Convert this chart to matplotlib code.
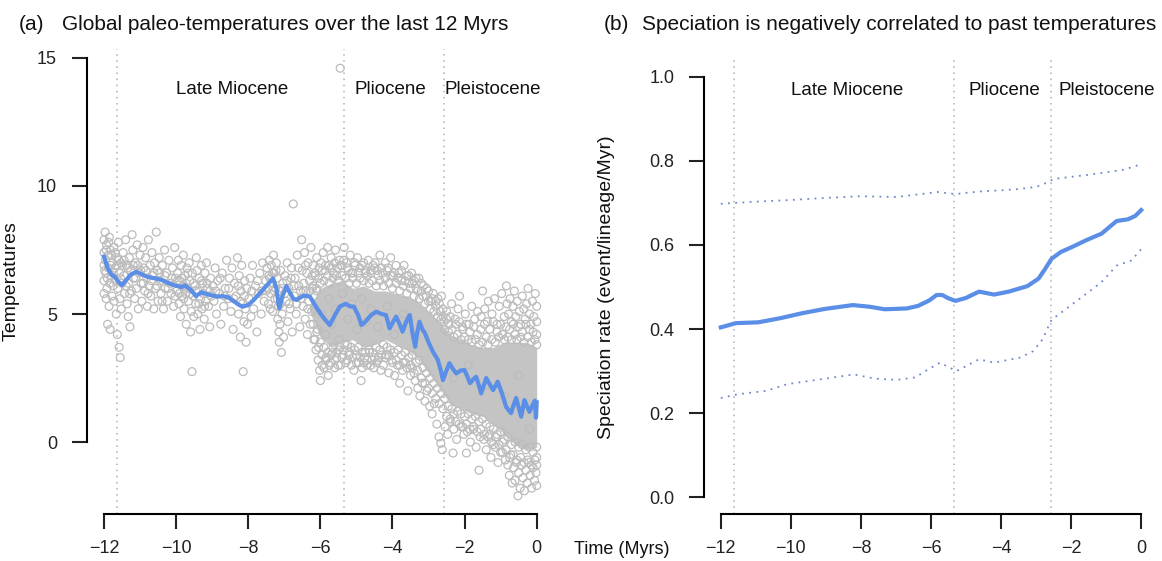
import numpy as np
import matplotlib
matplotlib.use("Agg")
import matplotlib.pyplot as plt

plt.rcParams['font.family'] = ['Liberation Sans', 'DejaVu Sans']

# epoch boundaries (Myrs before present) and label positions
bounds = [-11.63, -5.333, -2.58]
epochs = ["Late Miocene", "Pliocene", "Pleistocene"]
epoch_x_a = [-8.45, -4.05, -1.22]
epoch_x_b = [-8.4, -3.9, -0.97]

# (a) raw paleo-temperature points
miocene_pts = [
    (-12.0, 7.9), (-12.0, 7.4), (-12.0, 6.9), (-12.0, 6.3), (-12.0, 5.8), (-11.97, 8.2), (-11.96, 7.1),
    (-11.95, 6.6), (-11.94, 5.6), (-11.93, 7.7), (-11.92, 6.0), (-11.9, 4.6), (-11.89, 7.3), (-11.88, 6.8),
    (-11.86, 5.3), (-11.85, 8.0), (-11.84, 6.2), (-11.83, 4.4), (-11.82, 7.5), (-11.8, 6.5), (-11.78, 5.7),
    (-11.77, 7.0), (-11.75, 6.1), (-11.73, 7.6), (-11.72, 5.5), (-11.7, 6.8), (-11.68, 6.3), (-11.66, 5.0),
    (-11.65, 7.2), (-11.63, 4.2), (-11.62, 6.0), (-11.6, 7.8), (-11.58, 3.7), (-11.57, 6.6), (-11.56, 5.6),
    (-11.55, 3.3), (-11.53, 7.0), (-11.52, 5.2), (-11.5, 6.2), (-11.47, 7.4), (-11.45, 6.5), (-11.43, 5.8),
    (-11.4, 7.9), (-11.38, 6.9), (-11.36, 5.4), (-11.33, 4.9), (-11.32, 6.2), (-11.3, 7.2), (-11.28, 4.5),
    (-11.26, 6.7), (-11.24, 5.9), (-11.22, 8.1), (-11.2, 7.5), (-11.18, 6.4), (-11.15, 5.6), (-11.13, 7.0),
    (-11.1, 6.0), (-11.08, 7.7), (-11.05, 5.2), (-11.03, 6.6), (-11.0, 7.3), (-10.97, 6.2), (-10.95, 5.5),
    (-10.92, 7.6), (-10.9, 6.8), (-10.87, 5.9), (-10.85, 7.2), (-10.82, 6.4), (-10.8, 5.3), (-10.77, 7.9),
    (-10.75, 6.1), (-10.72, 6.9), (-10.7, 5.7), (-10.67, 7.4), (-10.65, 6.5), (-10.62, 5.2), (-10.6, 7.0),
    (-10.57, 6.0), (-10.55, 8.2), (-10.52, 6.7), (-10.5, 5.5), (-10.47, 7.2), (-10.44, 6.3), (-10.42, 5.8),
    (-10.38, 6.9), (-10.35, 5.2), (-10.32, 7.5), (-10.3, 6.0), (-10.27, 6.6), (-10.24, 5.5), (-10.2, 7.1),
    (-10.17, 6.2), (-10.14, 5.8), (-10.1, 6.8), (-10.07, 5.3), (-10.04, 7.6), (-10.02, 6.4), (-9.98, 5.9),
    (-9.96, 6.6), (-9.94, 7.1), (-9.92, 5.4), (-9.9, 6.3), (-9.88, 4.9), (-9.86, 6.9), (-9.84, 5.7),
    (-9.82, 6.1), (-9.8, 7.3), (-9.78, 5.2), (-9.76, 6.5), (-9.74, 5.8), (-9.72, 4.6), (-9.7, 6.8),
    (-9.68, 6.0), (-9.66, 5.5), (-9.64, 7.0), (-9.62, 6.3), (-9.6, 4.3), (-9.58, 5.1), (-9.56, 2.75),
    (-9.55, 6.6), (-9.53, 5.7), (-9.51, 4.9), (-9.48, 6.1), (-9.46, 5.4), (-9.44, 7.2), (-9.42, 6.7),
    (-9.4, 5.0), (-9.38, 5.9), (-9.36, 6.4), (-9.34, 4.4), (-9.32, 5.6), (-9.3, 6.9), (-9.28, 5.2),
    (-9.26, 6.2), (-9.24, 5.8), (-9.22, 4.8), (-9.2, 6.6), (-9.18, 5.5), (-9.16, 7.0), (-9.13, 6.0),
    (-9.1, 5.3), (-9.07, 4.5), (-9.04, 6.4), (-9.02, 5.7), (-8.98, 6.1), (-8.95, 5.5), (-8.92, 6.8),
    (-8.88, 5.0), (-8.85, 6.3), (-8.8, 5.8), (-8.76, 4.6), (-8.72, 6.6), (-8.68, 5.3), (-8.64, 6.0),
    (-8.6, 7.1), (-8.56, 5.6), (-8.52, 6.4), (-8.48, 5.1), (-8.45, 6.8), (-8.42, 4.4), (-8.38, 6.2),
    (-8.34, 5.7), (-8.3, 7.2), (-8.27, 5.0), (-8.25, 6.5), (-8.22, 4.1), (-8.2, 5.9), (-8.18, 6.9),
    (-8.16, 5.4), (-8.14, 2.75), (-8.12, 4.7), (-8.1, 6.3), (-8.08, 5.2), (-8.06, 3.9), (-8.04, 6.0),
    (-8.02, 4.6),
    (-11.98, 6.7), (-11.94, 7.5), (-11.91, 6.4), (-11.87, 7.8), (-11.81, 6.9), (-11.79, 7.3), (-11.74, 6.6),
    (-11.69, 7.4), (-11.64, 6.9), (-11.59, 7.1), (-11.54, 6.4), (-11.49, 6.9), (-11.44, 7.1), (-11.39, 6.1),
    (-11.34, 6.8), (-11.29, 5.8), (-11.19, 6.9), (-11.12, 6.4), (-11.06, 6.9), (-10.98, 6.7), (-10.91, 6.2),
    (-10.84, 6.7), (-10.78, 5.8), (-10.69, 6.3), (-10.61, 6.6), (-10.53, 6.1), (-10.46, 6.6), (-10.39, 5.5),
    (-10.31, 6.5), (-10.22, 6.0), (-10.12, 6.4), (-10.03, 5.7), (-9.97, 6.3), (-9.91, 5.8), (-9.85, 6.4),
    (-9.79, 5.6), (-9.73, 6.2), (-9.67, 6.6), (-9.61, 5.8), (-9.52, 6.2), (-9.45, 5.9), (-9.37, 5.4),
    (-9.29, 6.3), (-9.21, 5.3), (-9.14, 6.2), (-9.06, 5.9), (-8.9, 5.9), (-8.78, 6.4), (-8.66, 5.7),
    (-8.54, 6.0), (-8.4, 5.6), (-8.28, 6.1), (-8.21, 5.5), (-8.11, 5.7),
]
late_pts = [
    (-7.98, 5.6), (-7.95, 6.4), (-7.92, 4.9), (-7.88, 6.9), (-7.85, 5.2), (-7.8, 6.1), (-7.76, 4.3),
    (-7.72, 5.8), (-7.68, 6.6), (-7.64, 5.0), (-7.6, 7.0), (-7.56, 5.5), (-7.52, 6.3), (-7.48, 6.8),
    (-7.46, 6.0), (-7.44, 5.4), (-7.42, 7.1), (-7.4, 6.4), (-7.38, 5.8), (-7.36, 6.9), (-7.34, 6.2),
    (-7.32, 5.1), (-7.3, 7.3), (-7.28, 6.6), (-7.26, 5.6), (-7.24, 6.0), (-7.22, 7.0), (-7.2, 6.4),
    (-7.18, 4.8), (-7.16, 5.3), (-7.15, 4.3), (-7.14, 3.9), (-7.13, 5.9), (-7.12, 4.6), (-7.1, 6.7),
    (-7.08, 3.5), (-7.06, 5.0), (-7.04, 6.2), (-7.02, 4.1), (-6.98, 6.5), (-6.95, 5.5), (-6.92, 7.0),
    (-6.9, 4.7), (-6.87, 6.0), (-6.84, 5.2), (-6.8, 6.8), (-6.78, 4.3), (-6.75, 9.3), (-6.72, 5.7),
    (-6.7, 6.4), (-6.67, 5.0), (-6.64, 7.3), (-6.6, 6.1), (-6.57, 4.5), (-6.54, 5.6), (-6.52, 7.9),
    (-6.5, 6.7), (-6.48, 5.3), (-6.46, 6.2), (-6.44, 7.4), (-6.42, 4.8), (-6.4, 5.9), (-6.38, 6.6),
    (-6.36, 4.2), (-6.34, 7.0), (-6.32, 5.5), (-6.3, 6.3), (-6.28, 4.6), (-6.26, 7.6), (-6.24, 5.1),
    (-6.22, 6.0), (-6.2, 6.9), (-6.18, 4.0), (-6.16, 5.7), (-6.14, 6.5), (-6.12, 3.6), (-6.1, 7.2),
    (-6.08, 4.4), (-6.06, 3.2), (-6.04, 6.8), (-6.02, 2.8), (-6.0, 2.4), (-5.98, 7.0), (-5.95, 3.0),
    (-5.92, 7.4), (-5.9, 2.9), (-5.87, 6.7), (-5.84, 3.3), (-5.8, 7.6), (-5.78, 2.6), (-5.75, 6.9),
    (-5.72, 3.1), (-5.7, 7.2), (-5.66, 3.5), (-5.64, 6.6), (-5.6, 2.9), (-5.58, 7.5), (-5.55, 3.3),
    (-5.52, 6.8), (-5.5, 3.6), (-5.47, 7.1), (-5.45, 14.6), (-5.44, 3.0), (-5.4, 6.9), (-5.37, 3.4),
    (-5.34, 7.6), (-5.32, 3.8), (-5.96, 5.0), (-5.85, 4.2), (-5.76, 5.6), (-5.68, 4.6), (-5.58, 5.2),
    (-5.48, 4.0), (-5.38, 5.8),
    (-7.9, 5.9), (-7.74, 6.3), (-7.62, 5.9), (-7.5, 5.9), (-7.43, 6.5), (-7.39, 5.2), (-7.33, 6.6),
    (-7.27, 5.9), (-7.23, 6.7), (-7.19, 5.6), (-7.11, 5.4), (-7.07, 6.0), (-6.99, 5.8), (-6.93, 6.3),
    (-6.86, 5.4), (-6.81, 6.4), (-6.73, 6.1), (-6.66, 5.4), (-6.61, 6.8), (-6.55, 5.9), (-6.47, 5.9),
    (-6.41, 6.9), (-6.35, 5.2), (-6.29, 5.9), (-6.23, 6.5), (-6.17, 5.2), (-6.11, 6.0),
]
pliocene_pts = [
    (-5.28, 7.0), (-5.25, 3.2), (-5.22, 6.7), (-5.2, 3.5), (-5.17, 7.3), (-5.14, 3.0), (-5.1, 6.6),
    (-5.07, 2.8), (-5.04, 6.9), (-5.0, 3.4), (-4.97, 7.2), (-4.94, 3.1), (-4.9, 6.8), (-4.87, 2.4),
    (-4.84, 2.9), (-4.8, 7.0), (-4.77, 3.3), (-4.74, 6.6), (-4.7, 3.0), (-4.67, 7.1), (-4.64, 3.5),
    (-4.6, 6.7), (-4.57, 3.2), (-4.54, 6.9), (-4.52, 2.9), (-5.24, 4.8), (-5.12, 5.4), (-4.98, 4.4),
    (-4.85, 5.6), (-4.72, 4.7), (-4.6, 5.2), (-4.48, 7.0), (-4.45, 3.1), (-4.42, 6.7), (-4.38, 3.3),
    (-4.35, 7.3), (-4.32, 2.8), (-4.28, 6.6), (-4.25, 3.0), (-4.2, 7.0), (-4.17, 3.4), (-4.12, 6.8),
    (-4.1, 2.7), (-4.05, 7.2), (-4.02, 3.2), (-3.98, 6.5), (-3.94, 2.6), (-3.9, 6.9), (-3.86, 3.0),
    (-3.82, 6.6), (-3.8, 2.3), (-3.76, 6.3), (-3.72, 2.8), (-3.68, 6.9), (-3.64, 3.1), (-3.6, 6.5),
    (-3.57, 2.0), (-3.54, 6.2), (-3.5, 2.6), (-4.4, 4.5), (-4.15, 5.3), (-3.95, 4.2), (-3.7, 5.0),
    (-3.47, 6.6), (-3.44, 2.9), (-3.4, 6.3), (-3.37, 2.4), (-3.34, 6.0), (-3.3, 2.1), (-3.27, 6.4),
    (-3.24, 1.8), (-3.2, 5.9), (-3.17, 2.3), (-3.14, 6.1), (-3.1, 1.6), (-3.07, 5.7), (-3.04, 2.0),
    (-3.0, 5.9), (-2.97, 1.4), (-2.94, 5.5), (-2.9, 1.1), (-2.87, 5.8), (-2.84, 1.5), (-2.8, 5.3),
    (-2.77, 0.7), (-2.74, 5.6), (-2.71, 0.2), (-2.68, 5.1), (-2.66, -0.05), (-2.64, 5.7), (-2.62, -0.3),
    (-2.6, 4.9),
]
pleistocene_pts = [
    (-2.57, 4.7), (-2.54, 0.6), (-2.5, 5.1), (-2.47, 0.3), (-2.44, 4.6), (-2.4, 0.8), (-2.36, 5.4),
    (-2.32, -0.43), (-2.3, 0.5), (-2.26, 4.8), (-2.22, 0.1), (-2.18, 5.2), (-2.14, 5.7), (-2.1, 0.6),
    (-2.06, 4.5), (-2.02, 0.3), (-1.98, 5.0), (-1.95, -0.43), (-1.92, 0.4), (-1.88, 4.6), (-1.84, 0.0),
    (-1.8, 5.3), (-1.76, 0.5), (-1.72, 4.8), (-1.68, -0.2), (-1.64, 5.1), (-1.6, -1.1), (-1.57, 0.2),
    (-1.54, 4.9), (-1.5, 5.9), (-1.47, 0.1), (-1.44, 5.2), (-1.4, -0.3), (-1.37, 4.7), (-1.34, 5.5),
    (-1.3, 0.3), (-1.27, -0.6), (-1.24, 5.0), (-1.2, -0.1), (-1.17, 5.6), (-1.14, 0.2), (-1.1, 4.6),
    (-1.07, -0.8), (-1.04, 5.3), (-1.0, -0.4), (-0.97, 5.8), (-0.94, 0.0), (-0.9, 4.9), (-0.87, -0.7),
    (-0.84, 6.1), (-0.82, 5.4), (-0.8, -0.9), (-0.78, 5.0), (-0.76, -1.3), (-0.74, 5.6), (-0.72, -0.5),
    (-0.7, 4.7), (-0.68, -1.6), (-0.66, 5.3), (-0.64, -1.0), (-0.62, 5.9), (-0.6, -1.5), (-0.58, 4.9),
    (-0.56, -0.8), (-0.54, 5.5), (-0.52, -2.1), (-0.5, -1.2), (-0.48, 5.1), (-0.46, -1.8), (-0.44, 4.6),
    (-0.42, -0.9), (-0.4, 5.7), (-0.38, -1.4), (-0.36, 5.2), (-0.34, -1.9), (-0.32, 4.8), (-0.3, -1.1),
    (-0.28, 5.4), (-0.26, -1.6), (-0.24, 6.0), (-0.22, -0.8), (-0.2, 5.0), (-0.18, -1.3), (-0.16, 4.6),
    (-0.14, -1.8), (-0.12, 5.5), (-0.1, -1.0), (-0.08, 4.9), (-0.06, -1.5), (-0.04, 5.8), (-0.02, -1.2),
    (0.0, 4.7), (0.0, -0.6), (0.0, -1.7), (0.0, 5.3), (-2.3, 2.5), (-1.9, 3.0), (-1.4, 2.2),
    (-0.9, 1.8), (-0.5, 2.6), (-0.2, 0.5),
]
# points hugging the upper and lower edge of the dense band
band_top_pts = [
    (-6.2, 6.1), (-6.15, 6.6), (-6.1, 5.9), (-6.05, 6.4), (-6.0, 6.2), (-5.95, 6.7), (-5.9, 6.3),
    (-5.85, 6.9), (-5.8, 6.5), (-5.75, 6.2), (-5.7, 6.8), (-5.65, 6.4), (-5.6, 7.0), (-5.55, 6.5),
    (-5.5, 6.3), (-5.45, 6.9), (-5.4, 6.5), (-5.35, 7.1), (-5.3, 6.4), (-5.25, 6.8), (-5.2, 6.2),
    (-5.15, 6.6), (-5.1, 6.4), (-5.05, 7.0), (-5.0, 6.2), (-4.95, 6.6), (-4.9, 6.4), (-4.85, 6.9),
    (-4.8, 6.3), (-4.75, 6.7), (-4.7, 6.5), (-4.65, 6.2), (-4.6, 6.6), (-4.55, 6.3), (-4.5, 6.8),
    (-4.45, 6.1), (-4.4, 6.5), (-4.35, 6.3), (-4.3, 6.8), (-4.25, 6.1), (-4.2, 6.4), (-4.15, 6.7),
    (-4.1, 6.2), (-4.05, 6.5), (-4.0, 6.0), (-3.95, 6.6), (-3.9, 6.2), (-3.85, 6.4), (-3.8, 5.9),
    (-3.75, 6.7), (-3.7, 6.1), (-3.65, 6.3), (-3.6, 5.8), (-3.55, 6.5), (-3.5, 6.0), (-3.45, 6.2),
    (-3.4, 5.7), (-3.35, 6.4), (-3.3, 5.9), (-3.25, 5.6), (-3.2, 6.2), (-3.15, 5.7), (-3.1, 5.4),
    (-3.05, 6.0), (-3.0, 5.5), (-2.95, 5.2), (-2.9, 5.6), (-2.85, 5.1), (-2.8, 5.5), (-2.75, 4.9),
    (-2.7, 5.4), (-2.65, 4.8), (-2.6, 5.2), (-2.55, 4.4), (-2.5, 4.8), (-2.45, 4.3), (-2.4, 4.9),
    (-2.35, 4.4), (-2.3, 4.1), (-2.25, 4.6), (-2.2, 4.2), (-2.15, 4.7), (-2.1, 4.0), (-2.05, 4.4),
    (-2.0, 4.1), (-1.95, 4.6), (-1.9, 4.0), (-1.85, 4.3), (-1.8, 3.9), (-1.75, 4.5), (-1.7, 4.0),
    (-1.65, 4.2), (-1.6, 3.8), (-1.55, 4.4), (-1.5, 3.9), (-1.45, 4.6), (-1.4, 4.1), (-1.35, 3.8),
    (-1.3, 4.4), (-1.25, 4.0), (-1.2, 4.7), (-1.15, 3.9), (-1.1, 4.3), (-1.05, 4.1), (-1.0, 4.6),
    (-0.95, 4.2), (-0.9, 4.0), (-0.85, 4.5), (-0.8, 4.1), (-0.75, 4.4), (-0.7, 4.0), (-0.65, 4.6),
    (-0.6, 4.2), (-0.55, 4.0), (-0.5, 4.5), (-0.45, 4.1), (-0.4, 4.3), (-0.35, 3.9), (-0.3, 4.6),
    (-0.25, 4.1), (-0.2, 4.4), (-0.15, 3.9), (-0.1, 4.3), (-0.05, 4.0), (0.0, 4.2), (0.0, 3.8),
]
band_bottom_pts = [
    (-6.2, 4.6), (-6.15, 4.0), (-6.1, 4.3), (-6.05, 3.7), (-6.0, 3.9), (-5.95, 3.4), (-5.9, 3.7),
    (-5.85, 3.2), (-5.8, 3.5), (-5.75, 3.0), (-5.7, 3.4), (-5.65, 3.7), (-5.6, 3.2), (-5.55, 3.5),
    (-5.5, 3.0), (-5.45, 3.7), (-5.4, 3.3), (-5.35, 3.6), (-5.3, 3.1), (-5.25, 3.8), (-5.2, 3.4),
    (-5.15, 3.7), (-5.1, 3.3), (-5.05, 3.6), (-5.0, 3.1), (-4.95, 3.7), (-4.9, 3.3), (-4.85, 3.5),
    (-4.8, 3.1), (-4.75, 3.5), (-4.7, 3.2), (-4.65, 3.6), (-4.6, 3.0), (-4.55, 3.5), (-4.5, 3.3),
    (-4.45, 3.7), (-4.4, 3.2), (-4.35, 3.6), (-4.3, 3.4), (-4.25, 3.8), (-4.2, 3.3), (-4.15, 3.7),
    (-4.1, 3.4), (-4.05, 3.6), (-4.0, 3.1), (-3.95, 3.5), (-3.9, 3.2), (-3.85, 3.6), (-3.8, 3.0),
    (-3.75, 3.4), (-3.7, 3.1), (-3.65, 3.5), (-3.6, 2.9), (-3.55, 3.3), (-3.5, 3.0), (-3.45, 3.4),
    (-3.4, 2.7), (-3.35, 3.1), (-3.3, 2.8), (-3.25, 3.2), (-3.2, 2.5), (-3.15, 2.9), (-3.1, 2.3),
    (-3.05, 2.7), (-3.0, 2.1), (-2.95, 2.5), (-2.9, 1.9), (-2.85, 2.3), (-2.8, 1.7), (-2.75, 2.1),
    (-2.7, 1.5), (-2.65, 1.9), (-2.6, 1.3), (-2.55, 1.7), (-2.5, 1.0), (-2.45, 1.4), (-2.4, 0.9),
    (-2.35, 1.3), (-2.3, 1.1), (-2.25, 0.8), (-2.2, 1.2), (-2.15, 0.7), (-2.1, 1.1), (-2.05, 0.6),
    (-2.0, 1.0), (-1.95, 0.7), (-1.9, 1.1), (-1.85, 0.5), (-1.8, 0.9), (-1.75, 0.6), (-1.7, 1.0),
    (-1.65, 0.4), (-1.6, 0.8), (-1.55, 0.5), (-1.5, 0.9), (-1.45, 0.3), (-1.4, 0.7), (-1.35, 0.2),
    (-1.3, 0.6), (-1.25, 0.0), (-1.2, 0.5), (-1.15, -0.2), (-1.1, 0.3), (-1.05, -0.1), (-1.0, 0.4),
    (-0.95, -0.4), (-0.9, 0.1), (-0.85, -0.3), (-0.8, 0.2), (-0.75, -0.6), (-0.7, -0.1), (-0.65, -0.5),
    (-0.6, 0.0), (-0.55, -0.7), (-0.5, -0.2), (-0.45, -0.6), (-0.4, -0.1), (-0.35, -0.8), (-0.3, -0.3),
    (-0.25, -0.7), (-0.2, -0.2), (-0.15, -0.9), (-0.1, -0.4), (-0.05, -0.7), (0.0, -0.2), (0.0, -0.9),
]

# inner part of the band where the circles fully overlap
core_t = [-6.3, -6.0, -5.7, -5.4, -5.1, -4.8, -4.5, -4.2, -3.9, -3.6, -3.3, -3.0, -2.7, -2.4,
          -2.1, -1.8, -1.5, -1.2, -0.9, -0.6, -0.3, 0.0]
core_lo = [5.1, 4.1, 3.7, 3.9, 4.0, 3.7, 3.8, 4.0, 3.8, 3.6, 3.3, 2.7, 2.1, 1.5,
           1.3, 1.1, 1.0, 0.7, 0.3, -0.1, -0.3, -0.2]
core_hi = [5.3, 6.0, 6.2, 6.3, 6.0, 6.1, 5.9, 5.9, 5.8, 5.7, 5.5, 5.1, 4.7, 4.2,
           4.0, 3.8, 3.7, 3.7, 3.9, 3.9, 3.9, 3.7]

# (a) smoothed temperature curve
temp_t = [-12.0, -11.9, -11.8, -11.7, -11.6, -11.5, -11.4, -11.25, -11.1, -10.95, -10.8, -10.6, -10.4,
          -10.2, -10.0, -9.85, -9.76, -9.6, -9.45, -9.3, -9.2, -9.0, -8.85, -8.7, -8.55, -8.4, -8.25,
          -8.15, -8.0, -7.85, -7.68, -7.5, -7.31, -7.22, -7.14, -7.05, -6.94, -6.85, -6.75, -6.66,
          -6.55, -6.45, -6.29, -6.15, -6.0, -5.88, -5.74, -5.6, -5.46, -5.3, -5.18, -5.07, -4.95,
          -4.86, -4.75, -4.6, -4.45, -4.3, -4.18, -4.08, -3.98, -3.9, -3.8, -3.72, -3.62, -3.52,
          -3.45, -3.37, -3.31, -3.25, -3.17, -3.1, -3.0, -2.88, -2.8, -2.74, -2.66, -2.6, -2.5, -2.42,
          -2.32, -2.23, -2.1, -2.0, -1.92, -1.85, -1.76, -1.68, -1.6, -1.54, -1.47, -1.4, -1.3, -1.21,
          -1.14, -1.08, -0.95, -0.85, -0.78, -0.71, -0.64, -0.57, -0.5, -0.43, -0.34, -0.27, -0.2,
          -0.13, -0.05, -0.02, 0.0]
temp_v = [7.24, 6.8, 6.55, 6.45, 6.25, 6.13, 6.3, 6.55, 6.65, 6.55, 6.45, 6.4, 6.33,
          6.2, 6.1, 6.05, 6.12, 5.95, 5.7, 5.85, 5.8, 5.72, 5.68, 5.7, 5.65, 5.5, 5.35,
          5.29, 5.35, 5.55, 5.81, 6.1, 6.39, 6.0, 5.22, 5.7, 6.09, 5.85, 5.6, 5.55,
          5.65, 5.72, 5.68, 5.35, 5.03, 4.8, 4.57, 4.95, 5.29, 5.4, 5.3, 5.29, 4.95,
          4.57, 4.7, 4.95, 5.09, 5.0, 4.96, 4.44, 4.7, 4.9, 4.6, 4.31, 4.7, 4.96,
          4.3, 3.72, 4.3, 4.7, 4.4, 4.25, 3.9, 3.53, 3.35, 3.2, 2.8, 2.42, 2.8, 3.08,
          2.85, 2.68, 2.8, 2.81, 2.55, 2.3, 2.45, 2.55, 2.2, 1.9, 2.2, 2.5, 2.25, 2.03,
          2.2, 2.36, 1.85, 1.38, 1.25, 1.13, 1.45, 1.72, 1.35, 0.99, 1.64, 1.4, 1.18,
          1.4, 1.62, 0.95, 1.55]

# (b) speciation rate through time with its bounds
rate_t = [-12.0, -11.57, -10.93, -10.29, -9.66, -9.02, -8.23, -7.75, -7.32, -6.69, -6.37, -6.05,
          -5.84, -5.68, -5.5, -5.3, -5.0, -4.63, -4.2, -3.78, -3.25, -2.93, -2.75, -2.56, -2.3,
          -1.98, -1.55, -1.13, -0.7, -0.38, -0.17, 0.0]
rate_mid = [0.404, 0.414, 0.416, 0.426, 0.438, 0.448, 0.457, 0.453, 0.447, 0.449, 0.455, 0.468,
            0.481, 0.481, 0.473, 0.467, 0.474, 0.489, 0.482, 0.489, 0.502, 0.52, 0.542, 0.567, 0.583,
            0.595, 0.612, 0.627, 0.657, 0.661, 0.669, 0.683]
upper_t = [-12.0, -11.0, -10.0, -9.0, -8.0, -7.0, -6.2, -5.8, -5.3, -5.0, -4.5, -4.0, -3.5, -3.0,
           -2.7, -2.5, -2.0, -1.5, -1.0, -0.5, 0.0]
upper_v = [0.698, 0.703, 0.707, 0.712, 0.716, 0.714, 0.722, 0.726, 0.721, 0.724, 0.728, 0.73,
           0.733, 0.738, 0.748, 0.757, 0.762, 0.767, 0.773, 0.779, 0.792]
lower_t = [-12.0, -11.5, -10.7, -10.1, -9.1, -8.2, -7.6, -6.97, -6.45, -6.1, -5.75, -5.27, -4.63,
           -4.2, -3.46, -3.09, -2.82, -2.56, -2.19, -1.55, -1.13, -0.7, -0.28, 0.0]
lower_v = [0.236, 0.245, 0.253, 0.269, 0.281, 0.292, 0.282, 0.279, 0.285, 0.303, 0.32, 0.30, 0.328,
           0.32, 0.332, 0.347, 0.375, 0.422, 0.445, 0.485, 0.512, 0.551, 0.563, 0.59]

blue = '#5b8ee6'
grey_pt = '#bcbcbc'
W, H = 1162, 561

fig = plt.figure(figsize=(W / 100, H / 100), dpi=100)
ax1 = fig.add_axes([86.7 / W, 1 - 514 / H, (554 - 86.7) / W, (514 - 48.5) / H])
ax2 = fig.add_axes([704 / W, 1 - 514 / H, (1158 - 704) / W, (514 - 60) / H])


def r_style(ax, ybounds, yticks, ylabels):
    for s in ['top', 'right']:
        ax.spines[s].set_visible(False)
    ax.spines['left'].set_bounds(*ybounds)
    ax.spines['bottom'].set_bounds(-12, 0)
    for s in ['left', 'bottom']:
        ax.spines[s].set_linewidth(1.5)
    ax.set_xticks(range(-12, 1, 2))
    ax.set_xticklabels([str(v) if v >= 0 else '\u2212' + str(-v) for v in range(-12, 1, 2)])
    ax.set_yticks(yticks)
    ax.set_yticklabels(ylabels)
    ax.tick_params(axis='both', direction='out', length=10.8, width=1.5, labelsize=13, colors='#222222')
    ax.tick_params(axis='x', pad=8)
    ax.tick_params(axis='y', pad=10.5)


# panel (a)
ax1.set_xlim(-12.48, 0.48)
ax1.set_ylim(-2.81, 15.37)
for b in bounds:
    ax1.axvline(b, color='#b0b0b0', lw=1.1, linestyle=(0, (1, 3)), zorder=1)
ax1.fill_between(core_t, core_lo, core_hi, color='#c4c4c4', lw=0, zorder=2)
for pts in [miocene_pts, late_pts, pliocene_pts, pleistocene_pts, band_top_pts, band_bottom_pts]:
    arr = np.array(pts)
    ax1.scatter(arr[:, 0], arr[:, 1], s=32, facecolors='none', edgecolors=grey_pt,
                linewidths=0.9, zorder=3)
ax1.plot(temp_t, temp_v, color=blue, lw=3, zorder=4, solid_joinstyle='round')
for name, x in zip(epochs, epoch_x_a):
    ax1.text(x, 13.75, name, ha='center', va='center', fontsize=13.5, color='#111111')
r_style(ax1, (0, 15), [0, 5, 10, 15], ['0', '5', '10', '15'])
ax1.set_ylabel('Temperatures', fontsize=14, color='#111111')
ax1.yaxis.set_label_coords((20 - 86.7) / (554 - 86.7), 0.5)

# panel (b)
ax2.set_xlim(-12.48, 0.48)
ax2.set_ylim(-0.04, 1.04)
for b in bounds:
    ax2.axvline(b, color='#b0b0b0', lw=1.1, linestyle=(0, (1, 3)), zorder=1)
ax2.plot(upper_t, upper_v, color='#6f86cc', lw=1.3, linestyle=(0, (1, 3)), zorder=2)
ax2.plot(lower_t, lower_v, color='#6f86cc', lw=1.3, linestyle=(0, (1, 3)), zorder=2)
ax2.plot(rate_t, rate_mid, color=blue, lw=3, zorder=3)
for name, x in zip(epochs, epoch_x_b):
    ax2.text(x, 0.967, name, ha='center', va='center', fontsize=13.5, color='#111111')
r_style(ax2, (0, 1), [0, 0.2, 0.4, 0.6, 0.8, 1.0], ['0.0', '0.2', '0.4', '0.6', '0.8', '1.0'])
ax2.set_ylabel('Speciation rate (event/lineage/Myr)', fontsize=14, color='#111111')
ax2.yaxis.set_label_coords((615 - 704) / (1158 - 704), 0.5)

# titles and shared time label
fig.text(19 / W, 1 - 24 / H, '(a)', fontsize=15, va='center', color='#111111')
fig.text(62 / W, 1 - 24 / H, 'Global paleo-temperatures over the last 12 Myrs', fontsize=15,
         va='center', color='#111111')
fig.text(604 / W, 1 - 24 / H, '(b)', fontsize=15, va='center', color='#111111')
fig.text(642 / W, 1 - 24 / H, 'Speciation is negatively correlated to past temperatures',
         fontsize=15, va='center', color='#111111')
fig.text(669 / W, 1 - 550 / H, 'Time (Myrs)', fontsize=13, ha='right', va='center', color='#111111')

fig.savefig('out.png', dpi=100)
